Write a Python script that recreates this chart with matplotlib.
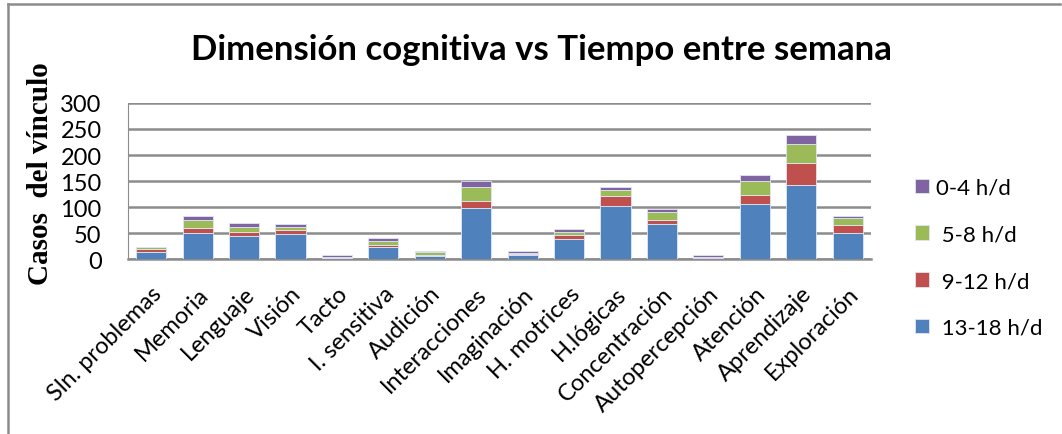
import numpy as np
import matplotlib
matplotlib.use('Agg')
import matplotlib.pyplot as plt
from matplotlib.lines import Line2D

# data
categorias = ['Sln. problemas', 'Memoria', 'Lenguaje', 'Visión', 'Tacto', 'I. sensitiva',
              'Audición', 'Interacciones', 'Imaginación', 'H. motrices', 'H.lógicas',
              'Concentración', 'Autopercepción', 'Atención', 'Aprendizaje', 'Exploración']
h13_18 = [13, 50, 45, 48, 2, 24, 6, 98, 8, 39, 102, 67, 2, 106, 143, 51]
h9_12 = [6, 10, 8, 7, 1, 4, 2, 14, 2, 7, 19, 9, 2, 17, 41, 15]
h5_8 = [4, 16, 9, 6, 2, 7, 5, 26, 2, 7, 11, 15, 1, 27, 38, 13]
h0_4 = [1, 7, 7, 6, 3, 5, 2, 13, 3, 5, 7, 6, 3, 12, 17, 4]
etiquetas = ['0-4 h/d', ' 5-8 h/d', ' 9-12 h/d', ' 13-18 h/d']
yticks = [0, 50, 100, 150, 200, 250, 300]

plt.rcParams['font.family'] = ['Lato', 'DejaVu Sans']

fig = plt.figure(figsize=(10.62, 4.35), dpi=100)
ax = fig.add_axes([0.1205, 0.402, 0.6995, 0.359])

x = np.arange(len(categorias))
w = 0.65
ec = '#dfe6f3'
b1 = ax.bar(x, h13_18, w, color='#4F81BD', edgecolor=ec, linewidth=0.6, zorder=3)
base = np.array(h13_18)
b2 = ax.bar(x, h9_12, w, bottom=base, color='#C0504D', edgecolor=ec, linewidth=0.6, zorder=3)
base = base + np.array(h9_12)
b3 = ax.bar(x, h5_8, w, bottom=base, color='#9BBB59', edgecolor=ec, linewidth=0.6, zorder=3)
base = base + np.array(h5_8)
b4 = ax.bar(x, h0_4, w, bottom=base, color='#8064A2', edgecolor=ec, linewidth=0.6, zorder=3)

ax.set_xlim(-0.5, len(categorias) - 0.5)
ax.set_ylim(0, 300)
ax.set_yticks(yticks)
ax.set_yticklabels([str(v) for v in yticks], fontsize=17)
ax.yaxis.grid(True, color='#8c8c8c', linewidth=1.8, zorder=0)
ax.set_axisbelow(True)
ax.tick_params(axis='both', length=0)
ax.tick_params(axis='y', pad=19)
ax.tick_params(axis='x', pad=17)
for s in ['top', 'right']:
    ax.spines[s].set_visible(False)
ax.spines['left'].set_color('#8c8c8c')
ax.spines['bottom'].set_color('#8c8c8c')
ax.spines['bottom'].set_linewidth(1.8)

ax.set_xticks(x)
ax.set_xticklabels(categorias, rotation=45, ha='right', rotation_mode='anchor', fontsize=17)

fig.text(0.510, 0.885, 'Dimensión cognitiva vs Tiempo entre semana', ha='center', va='center',
         fontsize=25, fontweight='bold')
fig.text(0.038, 0.602, 'Casos  del vínculo', rotation=90, ha='center', va='center',
         fontsize=21, fontweight='bold', family='Liberation Serif')

leg = fig.legend([b4, b3, b2, b1], etiquetas, loc='center left', bbox_to_anchor=(0.8425, 0.405),
                 frameon=False, fontsize=16, handlelength=0.65, handleheight=0.65,
                 handletextpad=0.3, labelspacing=1.2)

# chart border (top and left visible)
fig.add_artist(Line2D([0.0075, 0.998], [0.988, 0.988], color='#8c8c8c', linewidth=1.8))
fig.add_artist(Line2D([0.0075, 0.0075], [0.0, 0.988], color='#8c8c8c', linewidth=1.8))

fig.savefig('out.png', dpi=100)
